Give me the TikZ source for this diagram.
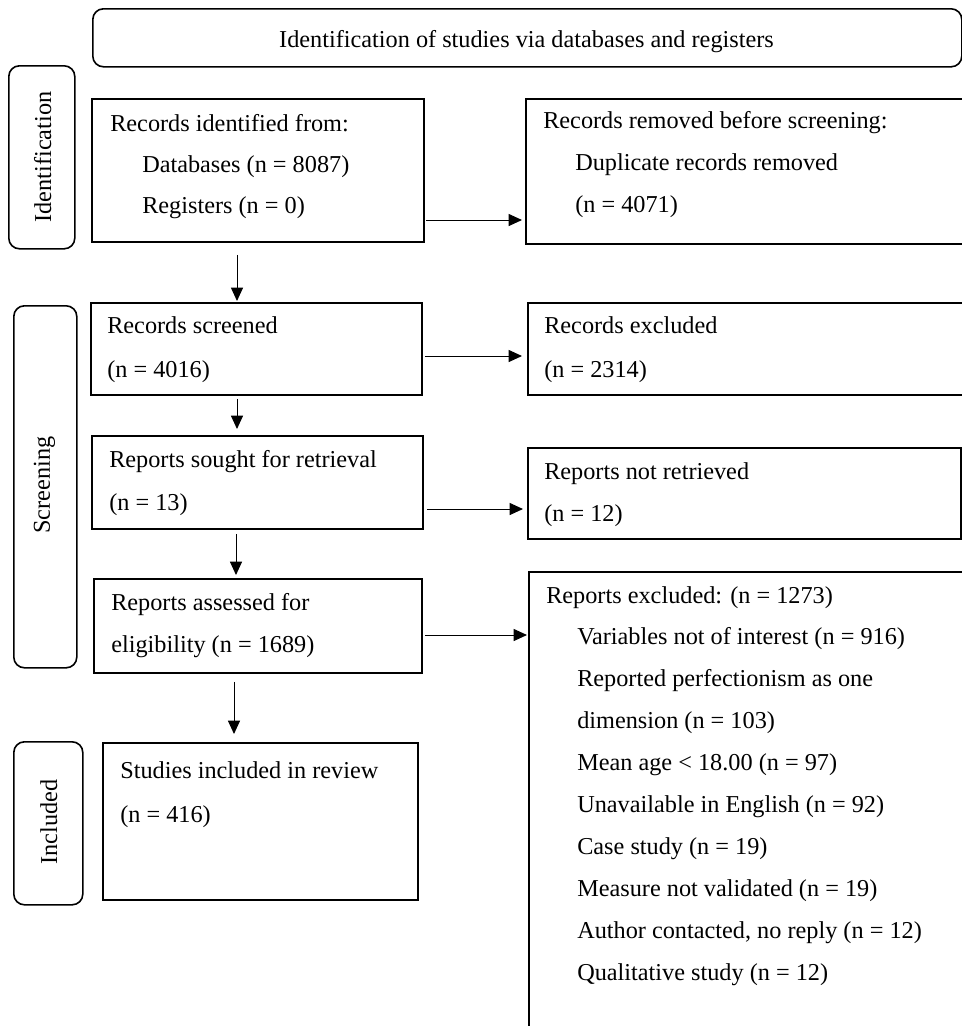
\documentclass[tikz,border=0pt]{standalone}
\usepackage{fontspec}
\setmainfont{Liberation Serif}
\usetikzlibrary{arrows.meta,calc}
\begin{document}
\begin{tikzpicture}[x=0.75pt,y=-0.75pt,
  box/.style={draw, line width=1.4pt, anchor=north west, inner sep=0pt},
  rbox/.style={box, rounded corners=8pt, line width=1.2pt},
  sz/.style 2 args={minimum width=#1*0.75pt, minimum height=#2*0.75pt},
  txt/.style={anchor=base west, inner sep=0pt, font=\fontsize{18.2}{21}\selectfont},
  side/.style={anchor=base, inner sep=0pt, rotate=90, font=\fontsize{18.2}{21}\selectfont},
  arr/.style={-{Triangle[length=10pt,width=9pt]}, line width=0.75pt}]
\useasboundingbox (0,0) rectangle (962,1026);

% phase boxes
\node[rbox, sz={869}{58}] (banner) at (92,8) {};
\node[txt, anchor=base] (bannert) at (526.5,47) {Identification of studies via databases and registers};
\node[rbox, sz={66}{183}] (idside) at (8,65) {};
\node[side] (idsidet) at (51,157) {Identification};
\node[rbox, sz={63}{362}] (scrside) at (13,305) {};
\node[side] (scrsidet) at (50,485) {Screening};
\node[rbox, sz={69}{163}] (incside) at (13,741) {};
\node[side] (incsidet) at (57,822) {Included};

% main boxes
\node[box, sz={332}{143}] (idbox) at (91,98) {};
\node[txt] (id1) at (110,131) {Records identified from:};
\node[txt] (id2) at (142,172) {Databases (n = 8087)};
\node[txt] (id3) at (142,213) {Registers (n = 0)};

\node[box, sz={445}{145}] (rembox) at (525,98) {};
\node[txt] (rem1) at (543,128) {Records removed before screening:};
\node[txt] (rem2) at (575,170) {Duplicate records removed};
\node[txt] (rem3) at (575,212) {(n = 4071)};

\node[box, sz={331}{92}] (scrbox) at (90,302) {};
\node[txt] (scr1) at (107,333) {Records screened};
\node[txt] (scr2) at (107,377) {(n = 4016)};

\node[box, sz={443}{92}] (exclbox) at (527,302) {};
\node[txt] (ex1) at (544,333) {Records excluded};
\node[txt] (ex2) at (544,377) {(n = 2314)};

\node[box, sz={331}{93}] (soughtbox) at (91,435) {};
\node[txt] (so1) at (109,467) {Reports sought for retrieval};
\node[txt] (so2) at (109,510) {(n = 13)};

\node[box, sz={433}{91}] (notretbox) at (527,447) {};
\node[txt] (nr1) at (544,479) {Reports not retrieved};
\node[txt] (nr2) at (544,521) {(n = 12)};

\node[box, sz={328}{94}] (assbox) at (93,578) {};
\node[txt] (as1) at (111,610) {Reports assessed for};
\node[txt] (as2) at (111,652) {eligibility (n = 1689)};

\node[box, sz={442}{470}] (repexbox) at (528,571) {};
\node[txt] (re0) at (546,603) {Reports excluded: (n = 1273)};
\node[txt] (re1) at (577,644) {Variables not of interest (n = 916)};
\node[txt] (re2) at (577,686) {Reported perfectionism as one};
\node[txt] (re3) at (577,728) {dimension (n = 103)};
\node[txt] (re4) at (577,770) {Mean age < 18.00 (n = 97)};
\node[txt] (re5) at (577,812) {Unavailable in English (n = 92)};
\node[txt] (re6) at (577,854) {Case study (n = 19)};
\node[txt] (re7) at (577,896) {Measure not validated (n = 19)};
\node[txt] (re8) at (577,938) {Author contacted, no reply (n = 12)};
\node[txt] (re9) at (577,980) {Qualitative study (n = 12)};

\node[box, sz={315}{157}] (studbox) at (102,742) {};
\node[txt] (st1) at (120,778) {Studies included in review};
\node[txt] (st2) at (120,822) {(n = 416)};

% connectors
\draw[arr] ($(idbox.east |- 0,220)+(1,0)$) -- ($(rembox.west |- 0,220)+(-3,0)$);
\draw[arr] ($(scrbox.east |- 0,356)+(2,0)$) -- ($(exclbox.west |- 0,356)+(-5,0)$);
\draw[arr] ($(soughtbox.east |- 0,509)+(3,0)$) -- ($(notretbox.west |- 0,509)+(-4,0)$);
\draw[arr] ($(assbox.east |- 0,635)+(2,0)$) -- ($(repexbox.west |- 0,635)+(-1,0)$);

\draw[arr] ($(idbox.south -| 237,0)+(0,12)$) -- ($(scrbox.north -| 237,0)+(0,-1)$);
\draw[arr] ($(scrbox.south -| 237,0)+(0,3)$) -- ($(soughtbox.north -| 237,0)+(0,-6)$);
\draw[arr] ($(soughtbox.south -| 236,0)+(0,4)$) -- ($(assbox.north -| 236,0)+(0,-3)$);
\draw[arr] ($(assbox.south -| 234,0)+(0,8)$) -- ($(studbox.north -| 234,0)+(0,-8)$);
\end{tikzpicture}
\end{document}
